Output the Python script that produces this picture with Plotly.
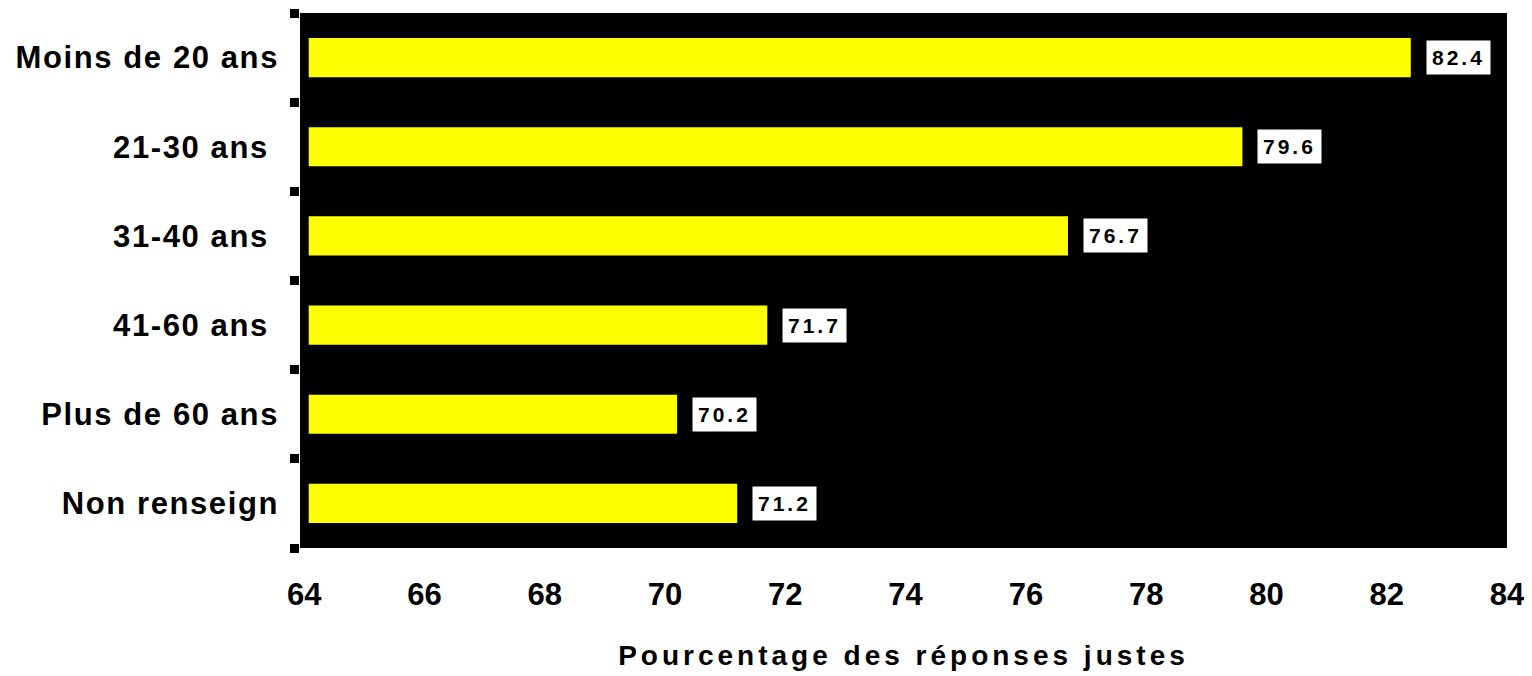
import plotly.graph_objects as go

categories = ["Moins de 20 ans", "21-30 ans\u00a0", "31-40 ans\u00a0", "41-60 ans\u00a0",
              "Plus de 60 ans", "Non renseign"]
values = [82.4, 79.6, 76.7, 71.7, 70.2, 71.2]
x_ticks = [64, 66, 68, 70, 72, 74, 76, 78, 80, 82, 84]

FONT = "Liberation Sans, Arial"


def spaced(text, px):
    # bold text with a bit of letter spacing, like the original chart
    return f'<span style="letter-spacing:{px}px"><b>{text}</b></span>'


fig = go.Figure()
fig.add_trace(go.Bar(
    x=values,
    y=categories,
    orientation="h",
    marker=dict(color="#FFFF00", line=dict(width=0)),
    width=0.44,
))

# value labels in white boxes
for cat, v in zip(categories, values):
    fig.add_annotation(
        x=v, y=cat, text=spaced(f"{v:.1f}", 3), showarrow=False,
        xanchor="left", xshift=15,
        font=dict(family=FONT, size=21, color="black"),
        bgcolor="white", borderpad=5,
    )

# thick y axis line at 64
fig.add_shape(type="line", xref="x", yref="paper", x0=64, x1=64, y0=0, y1=1,
              line=dict(color="black", width=9))

fig.update_layout(
    width=1532, height=676,
    margin=dict(l=292, r=33, t=5, b=136),
    plot_bgcolor="black",
    paper_bgcolor="white",
    showlegend=False,
    font=dict(family=FONT, color="black"),
)
fig.update_xaxes(
    range=[63.93, 84],
    tickvals=x_ticks,
    ticktext=[f"<b>{t}</b>" for t in x_ticks],
    tickfont=dict(size=31),
    showgrid=False, zeroline=False, ticks="",
    ticklabelstandoff=25,
    title=dict(text=spaced("Pourcentage des réponses justes", 4), font=dict(size=28), standoff=34),
)
fig.update_yaxes(
    categoryorder="array", categoryarray=categories, autorange="reversed",
    tickvals=categories,
    ticktext=[spaced(c, 1.6) for c in categories],
    tickfont=dict(size=31),
    showgrid=False, zeroline=False, showline=False,
    ticks="outside", tickson="boundaries", ticklen=9, tickwidth=9, tickcolor="black",
    ticklabelstandoff=20,
)

fig.write_html("out.html")
